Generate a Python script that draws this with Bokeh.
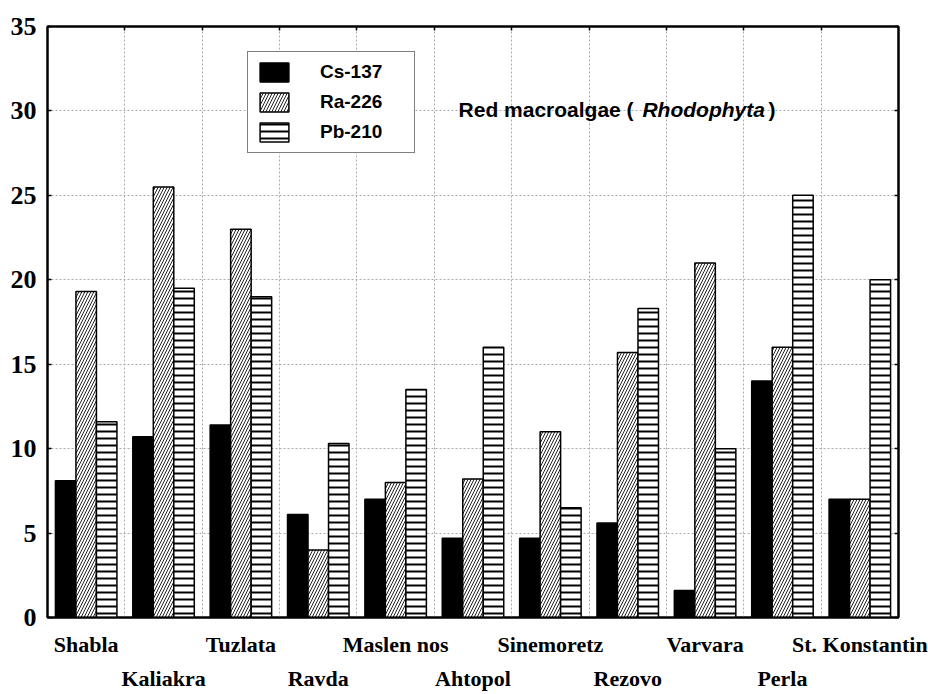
import numpy as np
from bokeh.plotting import figure
from bokeh.models import (Range1d, LinearAxis, FixedTicker, Grid, Legend, LegendItem, Label)
from bokeh.embed import file_html
from bokeh.resources import INLINE

# ---- data ----
sites = ["Shabla", "Kaliakra", "Tuzlata", "Ravda", "Maslen nos", "Ahtopol",
         "Sinemoretz", "Rezovo", "Varvara", "Perla", "St. Konstantin"]
cs137 = [8.1, 10.7, 11.4, 6.1, 7.0, 4.7, 4.7, 5.6, 1.6, 14.0, 7.0]
ra226 = [19.3, 25.5, 23.0, 4.0, 8.0, 8.2, 11.0, 15.7, 21.0, 16.0, 7.0]
pb210 = [11.6, 19.5, 19.0, 10.3, 13.5, 16.0, 6.5, 18.3, 10.0, 25.0, 20.0]
series_names = ["Cs-137", "Ra-226", "Pb-210"]
y_ticks = [0, 5, 10, 15, 20, 25, 30, 35]
y_max = 35

n = len(sites)
centers = np.arange(n) + 0.5
bw = 0.265

p = figure(width=928, height=694, x_range=Range1d(0, n), y_range=Range1d(0, y_max),
           x_axis_type=None, output_backend="svg", toolbar_location=None,
           min_border_left=47, min_border_right=30, min_border_top=26, min_border_bottom=77)
p.background_fill_color = "white"
p.border_fill_color = "white"
p.outline_line_color = "black"
p.outline_line_width = 2

# left y axis
ya = p.yaxis[0]
ya.ticker = FixedTicker(ticks=y_ticks)
ya.major_label_text_font = "Liberation Serif"
ya.major_label_text_font_style = "bold"
ya.major_label_text_font_size = "26px"
ya.major_label_text_color = "black"
ya.major_label_standoff = 11
ya.major_tick_in = 4
ya.major_tick_out = 0
ya.minor_tick_line_color = None
ya.axis_line_width = 2
ya.axis_line_color = "black"
ya.major_tick_line_width = 1.5

p.ygrid.grid_line_color = "#aaaaaa"
p.ygrid.grid_line_dash = "2 2"
p.ygrid.grid_line_width = 1

# right border ticks
ra = LinearAxis(ticker=FixedTicker(ticks=y_ticks),
                major_label_overrides={t: "" for t in y_ticks})
ra.major_tick_in = 4
ra.major_tick_out = 0
ra.major_label_standoff = 0
ra.minor_tick_line_color = None
ra.axis_line_width = 2
ra.axis_line_color = "black"
ra.major_tick_line_width = 1.5
p.add_layout(ra, "right")

# top border ticks at category boundaries
bnd = list(range(1, n))
ta = LinearAxis(ticker=FixedTicker(ticks=bnd), major_label_overrides={b: "" for b in bnd})
ta.major_tick_in = 4
ta.major_tick_out = 0
ta.major_label_standoff = 0
ta.minor_tick_line_color = None
ta.axis_line_width = 2
ta.axis_line_color = "black"
ta.major_tick_line_width = 1.5
p.add_layout(ta, "above")

# x grid at category boundaries
xg = Grid(dimension=0, ticker=FixedTicker(ticks=bnd),
          grid_line_color="#aaaaaa", grid_line_dash="2 2", grid_line_width=1)
p.add_layout(xg)

# bottom axes: staggered category labels (two rows)
odd_idx = list(range(0, n, 2))
even_idx = list(range(1, n, 2))
ax1 = LinearAxis(ticker=FixedTicker(ticks=[float(centers[i]) for i in odd_idx]),
                 major_label_overrides={float(centers[i]): sites[i] for i in odd_idx})
ax2 = LinearAxis(ticker=FixedTicker(ticks=[float(centers[i]) for i in even_idx]),
                 major_label_overrides={float(centers[i]): sites[i] for i in even_idx})
for ax, so in ((ax1, 8), (ax2, 0)):
    ax.major_label_text_font = "Liberation Serif"
    ax.major_label_text_font_style = "bold"
    ax.major_label_text_font_size = "22px"
    ax.major_label_text_color = "black"
    ax.major_label_standoff = so
    ax.major_tick_line_color = None
    ax.minor_tick_line_color = None
ax1.axis_line_width = 2
ax1.axis_line_color = "black"
ax2.axis_line_color = None
p.add_layout(ax1, "below")
p.add_layout(ax2, "below")

# bars
r1 = p.vbar(x=centers - bw, top=cs137, width=bw, fill_color="black", line_color="black", line_width=1.5)
r2 = p.vbar(x=centers, top=ra226, width=bw, fill_color="white", line_color="black", line_width=1.5,
            hatch_pattern="/", hatch_color="#222222", hatch_scale=6, hatch_weight=1)
r3 = p.vbar(x=centers + bw, top=pb210, width=bw, fill_color="white", line_color="black", line_width=1.5,
            hatch_pattern="-", hatch_color="black", hatch_scale=7, hatch_weight=2)

legend = Legend(items=[LegendItem(label=series_names[0], renderers=[r1]),
                       LegendItem(label=series_names[1], renderers=[r2]),
                       LegendItem(label=series_names[2], renderers=[r3])],
                location=(200, 464))
legend.glyph_width = 36
legend.glyph_height = 24
legend.label_standoff = 28
legend.label_width = 86
legend.spacing = 6
legend.padding = 8
legend.margin = 0
legend.label_text_font = "Liberation Sans"
legend.label_text_font_style = "bold"
legend.label_text_font_size = "19px"
legend.label_text_color = "black"
legend.border_line_color = "black"
legend.border_line_width = 1.5
legend.background_fill_alpha = 1
p.add_layout(legend)

# title inside the plot
t_kw = dict(y=30.1, y_units="data", x_units="data", text_font="Liberation Sans",
            text_font_size="21px", text_baseline="middle", text_color="black")
p.add_layout(Label(x=5.313, text="Red macroalgae (", text_font_style="bold", **t_kw))
p.add_layout(Label(x=7.69, text="Rhodophyta", text_font_style="bold italic", **t_kw))
p.add_layout(Label(x=9.32, text=")", text_font_style="bold", **t_kw))

open("out.html", "w").write(file_html(p, INLINE))
